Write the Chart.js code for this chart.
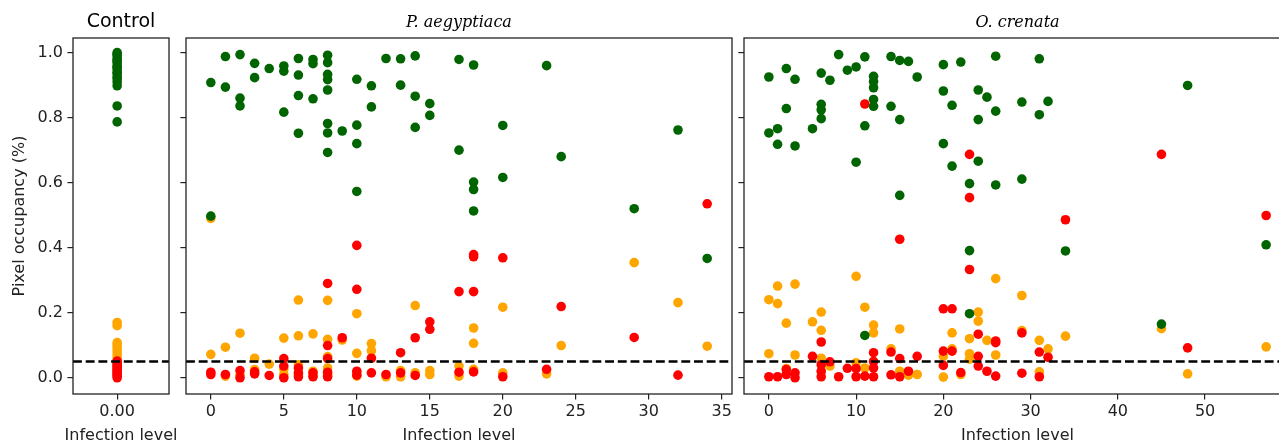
<!DOCTYPE html>
<html>
<head>
<meta charset="utf-8">
<script src="https://cdn.jsdelivr.net/npm/chart.js@4.4.1/dist/chart.umd.min.js"></script>
<style>
  html, body { margin: 0; padding: 0; background: #fff; overflow: hidden; width: 1279px; height: 444px; }
  canvas { position: absolute; top: 0; }
</style>
</head>
<body>
<canvas id="chartControl" width="180" height="444" style="left:0px"></canvas>
<canvas id="chartAeg" width="560" height="444" style="left:180px"></canvas>
<canvas id="chartCren" width="562" height="444" style="left:738px"></canvas>
<script>
// ticks
const yTicks = [0, 0.2, 0.4, 0.6, 0.8, 1.0];
const controlTicks = [0];
const aegTicks = [0, 5, 10, 15, 20, 25, 30, 35];
const crenTicks = [0, 10, 20, 30, 40, 50];
const threshold = 0.05;

// Control: every sample sits at infection level 0
const controlLevel = 0;
const controlGreen = [1.0, 0.995, 0.99, 0.98, 0.975, 0.97, 0.96, 0.955, 0.95, 0.94, 0.935, 0.925, 0.92, 0.91, 0.898, 0.836, 0.787];
const controlOrange = [0.17, 0.16, 0.108, 0.1, 0.09, 0.08, 0.07, 0.06];
const controlRed = [0.051, 0.045, 0.04, 0.035, 0.03, 0.025, 0.02, 0.015, 0.01, 0.005, 0.0];

// P. aegyptiaca  [infection level, occupancy]
const aegGreen = [
  [0,0.908],[0,0.497],[1,0.988],[1,0.894],[2,0.994],[2,0.86],[2,0.836],[3,0.967],[3,0.923],[4,0.951],
  [5,0.959],[5,0.943],[5,0.817],[6,0.982],[6,0.931],[6,0.868],[6,0.752],[7,0.979],[7,0.966],[7,0.858],
  [8,0.992],[8,0.969],[8,0.933],[8,0.917],[8,0.885],[8,0.782],[8,0.753],[8,0.693],[9,0.759],
  [10,0.918],[10,0.777],[10,0.72],[10,0.573],[11,0.898],[11,0.833],[12,0.982],[13,0.981],[13,0.9],
  [14,0.99],[14,0.866],[14,0.77],[15,0.843],[15,0.807],[17,0.979],[17,0.70],
  [18,0.962],[18,0.602],[18,0.579],[18,0.513],[20,0.776],[20,0.616],[23,0.96],[24,0.68],
  [29,0.52],[32,0.762],[34,0.367]
];
const aegOrange = [
  [0,0.49],[0,0.072],[1,0.094],[1,0.005],[2,0.137],[2,0.01],[3,0.06],[3,0.025],[4,0.042],
  [5,0.122],[5,0.026],[5,0.01],[6,0.239],[6,0.129],[6,0.04],[6,0.01],[7,0.135],[7,0.02],[7,0.005],
  [8,0.238],[8,0.118],[8,0.065],[8,0.03],[8,0.01],[8,0.005],[9,0.116],
  [10,0.197],[10,0.075],[10,0.015],[10,0.005],[11,0.105],[11,0.083],[12,0.003],[13,0.022],[13,0.003],
  [14,0.222],[14,0.015],[15,0.022],[15,0.01],[17,0.036],[17,0.005],[18,0.153],[18,0.106],[18,0.026],
  [20,0.217],[20,0.015],[23,0.012],[24,0.099],[29,0.354],[32,0.231],[34,0.097]
];
const aegRed = [
  [0,0.017],[0,0.01],[1,0.01],[2,0.022],[2,0.0],[3,0.018],[3,0.012],[4,0.007],
  [5,0.059],[5,0.036],[5,0.0],[6,0.03],[6,0.015],[6,0.003],[7,0.015],[7,0.003],
  [8,0.29],[8,0.099],[8,0.059],[8,0.017],[8,0.003],[9,0.123],
  [10,0.407],[10,0.272],[10,0.02],[10,0.008],[11,0.06],[11,0.015],[12,0.01],[13,0.077],[13,0.015],
  [14,0.123],[14,0.007],[15,0.172],[15,0.149],[17,0.265],[17,0.017],
  [18,0.379],[18,0.372],[18,0.265],[18,0.018],[20,0.369],[20,0.003],[23,0.026],[24,0.219],
  [29,0.124],[32,0.008],[34,0.535]
];

// O. crenata  [infection level, occupancy]
const crenGreen = [
  [0,0.925],[0,0.753],[1,0.766],[1,0.718],[2,0.951],[2,0.828],[3,0.918],[3,0.713],[5,0.766],
  [6,0.937],[6,0.841],[6,0.824],[6,0.797],[7,0.915],[8,0.994],[9,0.946],[10,0.956],[10,0.663],
  [11,0.987],[11,0.775],[11,0.13],[12,0.927],[12,0.911],[12,0.892],[12,0.856],[12,0.835],
  [14,0.988],[14,0.835],[15,0.976],[15,0.794],[15,0.561],[16,0.973],[17,0.925],
  [20,0.963],[20,0.882],[20,0.72],[21,0.838],[21,0.651],[22,0.971],[23,0.597],[23,0.391],[23,0.197],
  [24,0.885],[24,0.794],[24,0.666],[25,0.863],[26,0.989],[26,0.82],[26,0.593],
  [29,0.848],[29,0.611],[31,0.981],[31,0.809],[32,0.85],[34,0.39],[45,0.165],[48,0.899],[57,0.409]
];
const crenOrange = [
  [0,0.24],[0,0.074],[1,0.282],[1,0.228],[2,0.168],[2,0.028],[3,0.288],[3,0.07],[5,0.172],
  [6,0.202],[6,0.146],[6,0.06],[7,0.036],[10,0.312],[10,0.046],[11,0.217],[11,0.03],
  [12,0.162],[12,0.138],[14,0.089],[15,0.15],[15,0.02],[16,0.008],[17,0.01],
  [20,0.066],[20,0.002],[21,0.138],[21,0.089],[22,0.01],[23,0.12],[23,0.074],[23,0.057],
  [24,0.202],[24,0.174],[25,0.115],[26,0.305],[26,0.07],[29,0.253],[29,0.145],
  [31,0.115],[31,0.018],[32,0.089],[34,0.128],[45,0.151],[48,0.012],[57,0.095]
];
const crenRed = [
  [0,0.003],[1,0.003],[2,0.01],[2,0.025],[3,0.015],[3,0.0],[5,0.066],
  [6,0.11],[6,0.04],[6,0.02],[6,0.003],[7,0.049],[8,0.003],[9,0.029],[10,0.028],[10,0.003],
  [11,0.842],[11,0.005],[12,0.077],[12,0.05],[12,0.03],[12,0.003],[14,0.079],[14,0.009],
  [15,0.426],[15,0.059],[15,0.003],[16,0.02],[17,0.066],[20,0.212],[20,0.082],[20,0.038],
  [21,0.212],[21,0.082],[22,0.016],[23,0.687],[23,0.554],[23,0.333],
  [24,0.134],[24,0.066],[24,0.036],[25,0.02],[26,0.113],[26,0.108],[26,0.005],
  [29,0.138],[29,0.014],[31,0.079],[31,0.003],[32,0.063],[34,0.486],[45,0.687],[48,0.092],[57,0.499]
];

const GREEN = '#006400', ORANGE = '#ffa500', RED = '#ff0000';
const FONT = "'DejaVu Sans', sans-serif";
const X_TITLE = 'Infection level';

const pts = arr => arr.map(p => ({ x: p[0], y: p[1] }));
const ctrlPts = arr => arr.map(v => ({ x: controlLevel, y: v }));

// first dataset is drawn last (on top)
function makeSets(g, r, o) {
  return [
    { data: g, backgroundColor: GREEN },
    { data: r, backgroundColor: RED },
    { data: o, backgroundColor: ORANGE }
  ];
}

// box around the axes, dashed threshold line, x label (not squeezed to axis width)
const framePlugin = {
  id: 'frame',
  afterDatasetsDraw(chart) {
    const { ctx, chartArea: a, scales: { y } } = chart;
    const yy = y.getPixelForValue(threshold);
    ctx.save();
    ctx.strokeStyle = '#000';
    ctx.lineWidth = 2.4;
    ctx.setLineDash([8.9, 3.8]);
    ctx.beginPath();
    ctx.moveTo(a.left, yy);
    ctx.lineTo(a.right, yy);
    ctx.stroke();
    ctx.restore();
  },
  afterDraw(chart) {
    const { ctx, chartArea: a } = chart;
    ctx.save();
    ctx.strokeStyle = '#222';
    ctx.lineWidth = 1.3;
    ctx.strokeRect(a.left, a.top, a.right - a.left, a.bottom - a.top);
    ctx.fillStyle = '#222';
    ctx.font = "16px 'DejaVu Sans', sans-serif";
    ctx.textAlign = 'center';
    ctx.textBaseline = 'middle';
    ctx.fillText(X_TITLE, (a.left + a.right) / 2, 436);
    ctx.restore();
  }
};

function makeChart(id, cfg) {
  new Chart(document.getElementById(id), {
    type: 'scatter',
    data: { datasets: cfg.sets },
    options: {
      responsive: false,
      animation: false,
      events: [],
      layout: { padding: { left: 0, right: cfg.padRight, top: 0, bottom: 0 } },
      elements: { point: { radius: 4.8, hoverRadius: 4.8, borderWidth: 0 } },
      plugins: {
        legend: { display: false },
        tooltip: { enabled: false },
        title: {
          display: true,
          text: cfg.title,
          fullSize: false,
          color: '#000',
          font: cfg.titleFont,
          padding: cfg.titlePadding
        }
      },
      scales: {
        x: {
          type: 'linear',
          min: cfg.xMin,
          max: cfg.xMax,
          afterBuildTicks: s => { s.ticks = cfg.xTicks.map(v => ({ value: v })); },
          afterFit: s => { s.height = 50; },
          grid: { drawOnChartArea: false, drawTicks: true, tickLength: 5.6, color: '#222', lineWidth: 1.2 },
          border: { display: false },
          ticks: { color: '#222', font: { family: FONT, size: 16 }, padding: 3, maxRotation: 0, callback: cfg.xFmt },
          title: { display: false }
        },
        y: {
          type: 'linear',
          min: -0.05,
          max: 1.045,
          afterBuildTicks: s => { s.ticks = yTicks.map(v => ({ value: v })); },
          afterFit: s => { s.width = cfg.yWidth; },
          grid: { drawOnChartArea: false, drawTicks: true, tickLength: 5.6, color: '#222', lineWidth: 1.2 },
          border: { display: false },
          ticks: { color: '#222', font: { family: FONT, size: 16 }, padding: 4.5,
                   callback: cfg.yLabels ? (v => v.toFixed(1)) : (() => '') },
          title: { display: cfg.yLabels, text: 'Pixel occupancy (%)', color: '#222', font: { family: FONT, size: 16, lineHeight: 1 }, padding: { top: 12, bottom: 0 } }
        }
      }
    },
    plugins: [framePlugin]
  });
}

makeChart('chartControl', {
  sets: makeSets(ctrlPts(controlGreen), ctrlPts(controlRed), ctrlPts(controlOrange)),
  title: 'Control',
  titleFont: { family: FONT, size: 19, weight: 'normal' },
  titlePadding: { top: 10.6, bottom: 4.6 },
  xMin: -0.046, xMax: 0.054, xTicks: controlTicks, xFmt: v => v.toFixed(2),
  yWidth: 73, yLabels: true, padRight: 11
});

makeChart('chartAeg', {
  sets: makeSets(pts(aegGreen), pts(aegRed), pts(aegOrange)),
  title: 'P. aegyptiaca',
  titleFont: { family: "'DejaVu Serif', serif", size: 16, style: 'italic', weight: 'normal' },
  titlePadding: { top: 13.4, bottom: 5.4 },
  xMin: -1.7, xMax: 35.7, xTicks: aegTicks, xFmt: v => String(v),
  yWidth: 6, yLabels: false, padRight: 8
});

makeChart('chartCren', {
  sets: makeSets(pts(crenGreen), pts(crenRed), pts(crenOrange)),
  title: 'O. crenata',
  titleFont: { family: "'DejaVu Serif', serif", size: 16, style: 'italic', weight: 'normal' },
  titlePadding: { top: 13.4, bottom: 5.4 },
  xMin: -2.85, xMax: 59.85, xTicks: crenTicks, xFmt: v => String(v),
  yWidth: 6, yLabels: false, padRight: 9
});
</script>
</body>
</html>
